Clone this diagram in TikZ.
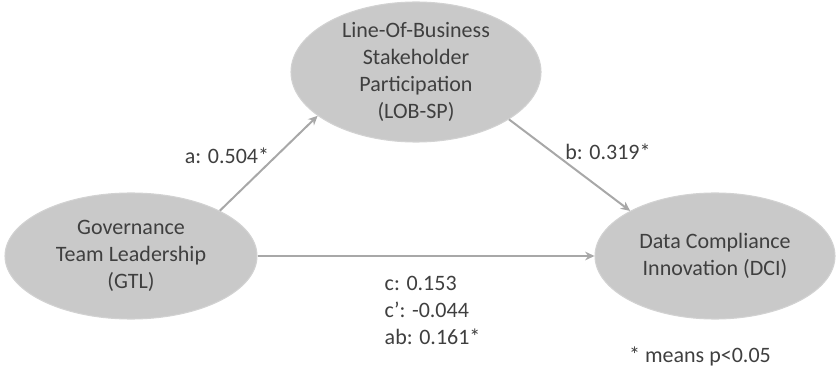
\documentclass[tikz,border=0pt]{standalone}
\usepackage{fontspec}
\setmainfont{Carlito}
\usetikzlibrary{shapes.geometric,arrows.meta}
\definecolor{ovalgray}{HTML}{C9C9C9}
\definecolor{ovalline}{HTML}{D2D2D2}
\definecolor{linkgray}{HTML}{A8A8A8}
\definecolor{textgray}{HTML}{3F3F3F}
\begin{document}
\begin{tikzpicture}[x=0.75pt,y=-0.75pt,
  font=\fontsize{16.5}{20.2}\selectfont, text=textgray,
  oval/.style={ellipse, fill=ovalgray, draw=ovalline, line width=0.8pt, inner sep=0pt,
    minimum width=189pt, minimum height=94.5pt, align=center},
  link/.style={-{Stealth[length=7pt,width=6.5pt]}, draw=linkgray, line width=1.5pt}]
\useasboundingbox (0,0) rectangle (836,367);
\node [oval] (gtl) at (131,256) {Governance\\Team Leadership\\(GTL)};
\node [oval, minimum width=187.5pt, minimum height=93pt] (lob) at (416,72) {Line-Of-Business\\Stakeholder\\Participation\\(LOB-SP)};
\node [oval, minimum width=180pt] (dci) at (715,256) {Data Compliance\\Innovation (DCI)};
\draw [link] (gtl.27) -- (lob.204);
\draw [link] (lob.333) -- (dci.152);
\draw [link] (gtl.east) -- (dci.west);
\node (a) at (227,156) {a: 0.504*};
\node (b) at (608,152) {b: 0.319*};
\node [align=left, anchor=north west] (c) at (380,272) {c: 0.153\\c’: -0.044\\ab: 0.161*};
\node (note) at (700,356) {* means p<0.05};
\end{tikzpicture}
\end{document}
